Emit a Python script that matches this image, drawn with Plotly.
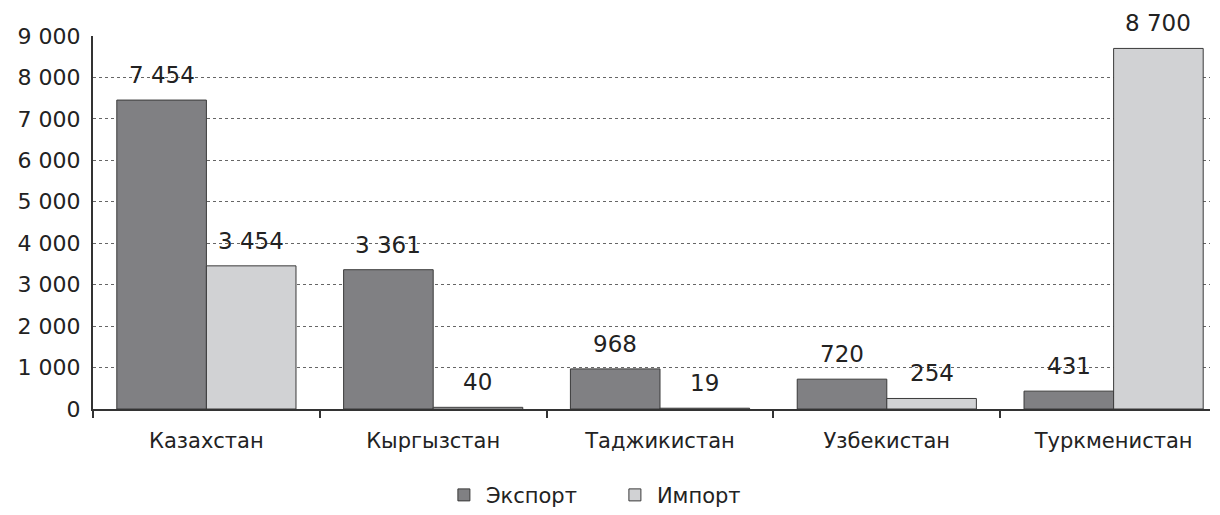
import plotly.graph_objects as go

categories = ["Казахстан", "Кыргызстан", "Таджикистан", "Узбекистан", "Туркменистан"]
export_vals = [7454, 3361, 968, 720, 431]
import_vals = [3454, 40, 19, 254, 8700]
ytick_vals = [0, 1000, 2000, 3000, 4000, 5000, 6000, 7000, 8000, 9000]
ytick_text = ["0", "1 000", "2 000", "3 000", "4 000", "5 000", "6 000", "7 000", "8 000", "9 000"]


def fmt(v):
    return f"{v:,}".replace(",", " ")


FONT = "DejaVu Sans, Arial, sans-serif"
W, H = 1212, 507          # page body has an 8px margin
ML, MR, MT, MB = 85, 10, 28, 106
XRANGE = [-0.5, 4.425]
BARGAP = 0.21
px_per_cat = (W - ML - MR) / (XRANGE[1] - XRANGE[0])
half_bar = px_per_cat * (1 - BARGAP) / 4

fig = go.Figure()
fig.add_trace(go.Bar(
    name="Экспорт", x=categories, y=export_vals,
    marker=dict(color="#808083", line=dict(color="#3a3a3a", width=1)),
))
fig.add_trace(go.Bar(
    name="Импорт", x=categories, y=import_vals,
    marker=dict(color="#d1d2d4", line=dict(color="#3a3a3a", width=1)),
))

for vals, sign in ((export_vals, -1), (import_vals, 1)):
    for c, v in zip(categories, vals):
        fig.add_annotation(
            x=c, y=v, xref="x", yref="y", text=fmt(v), showarrow=False,
            xanchor="center", yanchor="bottom", xshift=sign * half_bar, yshift=10,
            font=dict(size=23, color="#222", family=FONT),
        )

fig.update_layout(
    width=W, height=H,
    margin=dict(l=ML, r=MR, t=MT, b=MB, autoexpand=False),
    paper_bgcolor="white", plot_bgcolor="white",
    barmode="group", bargap=BARGAP, bargroupgap=0,
    font=dict(family=FONT, size=21, color="#222"),
    showlegend=True,
    legend=dict(orientation="h", xref="container", yref="container",
                x=0.358, xanchor="left", y=0.039, yanchor="middle",
                font=dict(size=21, color="#222"), itemwidth=34,
                entrywidth=122, entrywidthmode="pixels"),
)
fig.update_xaxes(
    range=XRANGE, showline=True, linecolor="#333", linewidth=2,
    ticks="outside", tickson="boundaries", ticklen=7, tickcolor="#333", tickwidth=2,
    tickfont=dict(size=21, color="#222"), showgrid=False, automargin=False,
    ticklabelstandoff=12,
)
fig.update_yaxes(
    range=[0, 9000], tickvals=ytick_vals, ticktext=ytick_text,
    showline=True, linecolor="#333", linewidth=2,
    showgrid=True, gridcolor="#666", griddash="dot", gridwidth=1,
    tickfont=dict(size=22, color="#222"), ticks="outside", ticklen=6, tickcolor="white",
    zeroline=False, automargin=False,
)

fig.write_html("out.html")
